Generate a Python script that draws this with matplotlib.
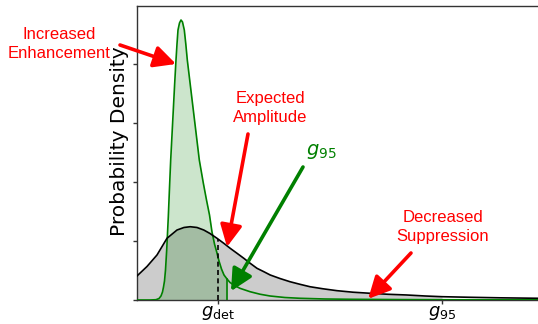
import numpy as np
import matplotlib
matplotlib.use("Agg")
import matplotlib.pyplot as plt

# Broad density of the amplitude (black)
prior_x = [0.0, 0.25, 0.5, 0.75, 1.0, 1.175, 1.33, 1.5, 1.67, 1.825, 2.0, 2.17,
           2.33, 2.5, 2.67, 2.83, 3.0, 3.17, 3.33, 3.575, 3.825, 4.075, 4.325,
           4.65, 5.0, 5.4, 5.825, 6.275, 6.74, 7.2, 7.625, 8.325, 9.075, 10.025]
prior_y = [0.407, 0.568, 0.763, 1.046, 1.186, 1.229, 1.242, 1.229, 1.186, 1.127,
           1.046, 0.961, 0.876, 0.792, 0.707, 0.622, 0.537, 0.480, 0.424, 0.364,
           0.310, 0.266, 0.225, 0.190, 0.158, 0.132, 0.114, 0.097, 0.085, 0.068,
           0.056, 0.046, 0.037, 0.029]

# Narrow, enhanced density (green)
post_x = [0.0, 0.325, 0.475, 0.55, 0.6, 0.6375, 0.6625, 0.6875, 0.7125, 0.7425,
          0.7825, 0.8125, 0.8425, 0.875, 0.9075, 0.94, 0.975, 1.0, 1.025, 1.0625,
          1.1, 1.1375, 1.1825, 1.22, 1.2575, 1.3325, 1.4075, 1.4825, 1.5575,
          1.6575, 1.7375, 1.8125, 1.875, 1.9375, 1.9925, 2.05, 2.1125, 2.175,
          2.25, 2.325, 2.425, 2.575, 2.825, 3.075, 3.325, 3.7, 4.075, 4.7,
          5.325, 6.575, 7.825, 10.025]
post_y = [0.0, 0.0, 0.005, 0.025, 0.068, 0.136, 0.220, 0.322, 0.508, 0.847,
          1.407, 1.898, 2.373, 2.797, 3.220, 3.644, 4.068, 4.339, 4.576, 4.695,
          4.746, 4.712, 4.576, 4.339, 4.068, 3.644, 3.220, 2.797, 2.373,
          1.983, 1.695, 1.441, 1.153, 0.949, 0.814, 0.661, 0.525, 0.424,
          0.356, 0.297, 0.251, 0.198, 0.141, 0.098, 0.068, 0.042, 0.029, 0.017,
          0.012, 0.007, 0.004, 0.003]

g_det = 2.025        # detection threshold
g95_prior = 7.625    # 95% bound of the broad density
g95_post = 2.25      # 95% bound of the narrow density

tick_positions = [g_det, g95_prior]
tick_labels = [r"$g_{\rm det}$", r"$g_{95}$"]

W, H = 538, 324
fig = plt.figure(figsize=(W / 100, H / 100), dpi=100)
ax = fig.add_axes([137 / W, 24 / H, 401 / W, 294 / H])

px = np.array(prior_x)
py = np.array(prior_y)
gx = np.array(post_x)
gy = np.array(post_y)

# shaded regions up to each 95% bound
m = px <= g95_prior
ax.fill_between(px[m], py[m], 0, color="k", alpha=0.2, lw=0, zorder=1)
m = gx <= g95_post
ax.fill_between(gx[m], gy[m], 0, color="green", alpha=0.2, lw=0, zorder=2)

ax.plot(gx, gy, color="green", lw=1.2, zorder=3)
ax.plot(px, py, color="black", lw=1.2, zorder=4)

ax.plot([g_det, g_det], [0, np.interp(g_det, px, py)], color="black",
        lw=1.2, ls=(0, (3, 2)), zorder=4)
ax.plot([g95_post, g95_post], [0, np.interp(g95_post, gx, gy)], color="green",
        lw=1.2, zorder=3)

ax.set_xlim(0, 10.025)
ax.set_ylim(0, 4.983)
ax.set_xticks(tick_positions)
ax.set_xticklabels(tick_labels, fontsize=13)
ax.set_yticks([0, 1, 2, 3, 4])
ax.set_yticklabels([])
ax.tick_params(axis="both", length=3, width=1, color="#333333")
ax.tick_params(axis="x", pad=0)
ax.spines["right"].set_visible(False)
for s in ("left", "top", "bottom"):
    ax.spines[s].set_color("#333333")
    ax.spines[s].set_linewidth(1.0)

ax.set_ylabel("Probability Density", fontsize=14.5)
ax.yaxis.set_label_coords(-0.02, 0.54)

red_font = dict(family="Liberation Sans", fontsize=12, color="red",
                ha="center", va="center", linespacing=1.3)


def fpx(x, y):
    """Figure-fraction position from pixel offsets measured from top-left."""
    return x / W, 1 - y / H


fig.text(*fpx(59, 44), "Increased\nEnhancement", **red_font)
fig.text(*fpx(270, 108), "Expected\nAmplitude", **red_font)
fig.text(*fpx(443, 227), "Decreased\nSuppression", **red_font)
fig.text(*fpx(321, 151), r"$g_{95}$", fontsize=14, color="green",
         ha="center", va="center")

arrow_style = "-|>,head_length=0.6,head_width=0.3"


def arrow(tip, tail_px, color):
    ax.annotate("", xy=tip, xycoords="data",
                xytext=(tail_px[0], H - tail_px[1]), textcoords="figure pixels",
                arrowprops=dict(arrowstyle=arrow_style, color=color, lw=2.6,
                                mutation_scale=22, shrinkA=0, shrinkB=0),
                zorder=6, annotation_clip=False)


arrow((0.975, 4.0), (120, 45), "red")
arrow((2.25, 0.90), (248, 134), "red")
arrow((2.35, 0.15), (303, 167), "green")
arrow((5.78, 0.02), (411, 253), "red")

fig.savefig("out.png", dpi=100)
